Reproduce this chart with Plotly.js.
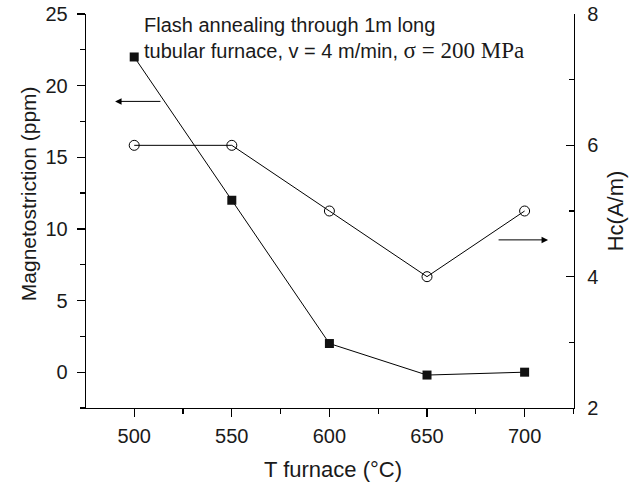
<!DOCTYPE html>
<html><head><meta charset="utf-8">
<script src="https://cdn.plot.ly/plotly-3.0.1.min.js"></script>
<style>html,body{margin:0;padding:0;background:#fff}</style>
</head><body>
<div id="chart" style="width:643px;height:483px"></div>
<script>
const temps = [500, 550, 600, 650, 700];
const magnetostriction = [22, 12, 2, -0.2, 0];
const hc = [6, 6, 5, 4, 5];
const xTitle = 'T furnace (°C)';
const yTitle = 'Magnetostriction (ppm)';
const y2Title = 'Hc(A/m)';

const F = 'Arial, "Liberation Sans", Helvetica, sans-serif';
const TXT = '#1a1a1a';
const traces = [
  {x: temps, y: magnetostriction, type: 'scatter', mode: 'lines+markers',
   line: {color: '#000', width: 1}, marker: {symbol: 'square', size: 9, color: '#111'}, yaxis: 'y'},
  {x: temps, y: hc, type: 'scatter', mode: 'lines+markers',
   line: {color: '#000', width: 1}, marker: {symbol: 'circle-open', size: 10, color: '#000', line: {width: 1}}, yaxis: 'y2'}
];
const axCommon = {showline: true, linecolor: '#000', linewidth: 1.3, showgrid: false, zeroline: false,
  tickfont: {family: F, size: 20, color: TXT}, tickcolor: '#000', tickwidth: 1.3};
const layout = {
  width: 643, height: 483, showlegend: false,
  paper_bgcolor: '#fff', plot_bgcolor: '#fff',
  margin: {l: 86, r: 69, t: 14, b: 75},
  font: {family: F, color: TXT},
  xaxis: Object.assign({}, axCommon, {range: [475.3, 725.3], dtick: 50, tick0: 500, ticks: 'outside', ticklen: 8,
    ticklabelstandoff: 2,
    minor: {dtick: 25, tick0: 475, ticks: 'outside', ticklen: 5, tickcolor: '#000', tickwidth: 1.3}}),
  yaxis: Object.assign({}, axCommon, {range: [-2.5, 25], dtick: 5, tick0: 0, ticks: 'outside', ticklen: 8,
    ticklabelstandoff: 5,
    minor: {dtick: 2.5, tick0: 0, ticks: 'outside', ticklen: 5, tickcolor: '#000', tickwidth: 1.3}}),
  yaxis2: Object.assign({}, axCommon, {range: [2, 8], dtick: 2, tick0: 2, ticks: 'inside', ticklen: 8,
    overlaying: 'y', side: 'right', ticklabelstandoff: 8,
    minor: {dtick: 1, tick0: 2, ticks: 'inside', ticklen: 5, tickcolor: '#000', tickwidth: 1.3},
    title: {text: y2Title, font: {family: F, size: 22, color: TXT}, standoff: 10}}),
  annotations: [
    {xref: 'paper', yref: 'paper', x: -0.119, y: 0.545, xanchor: 'center', yanchor: 'middle', textangle: -90,
     showarrow: false, text: yTitle, font: {family: F, size: 21, color: TXT}},
    {xref: 'paper', yref: 'paper', x: 0.507, y: -0.155, xanchor: 'center', yanchor: 'middle',
     showarrow: false, text: xTitle, font: {family: F, size: 22, color: TXT}},
    {xref: 'paper', yref: 'paper', x: 0.115, y: 1.005, xanchor: 'left', yanchor: 'top', align: 'left', showarrow: false,
     text: 'Flash annealing through 1m long<br>tubular furnace, v = 4 m/min, <span style="font-family:\'Liberation Serif\',\'Times New Roman\',serif;font-size:23px">σ = 200 MPa</span>',
     font: {family: F, size: 20, color: TXT}},
    {xref: 'x', yref: 'y', axref: 'x', ayref: 'y', x: 490.2, y: 18.9, ax: 514.2, ay: 18.9,
     showarrow: true, arrowhead: 2, arrowsize: 1.3, arrowwidth: 1, arrowcolor: '#000', text: ''},
    {xref: 'x', yref: 'y2', axref: 'x', ayref: 'y2', x: 712, y: 4.56, ax: 685.9, ay: 4.56,
     showarrow: true, arrowhead: 2, arrowsize: 1.3, arrowwidth: 1, arrowcolor: '#000', text: ''}
  ]
};
Plotly.newPlot('chart', traces, layout, {displayModeBar: false, staticPlot: true});
</script>
</body></html>
